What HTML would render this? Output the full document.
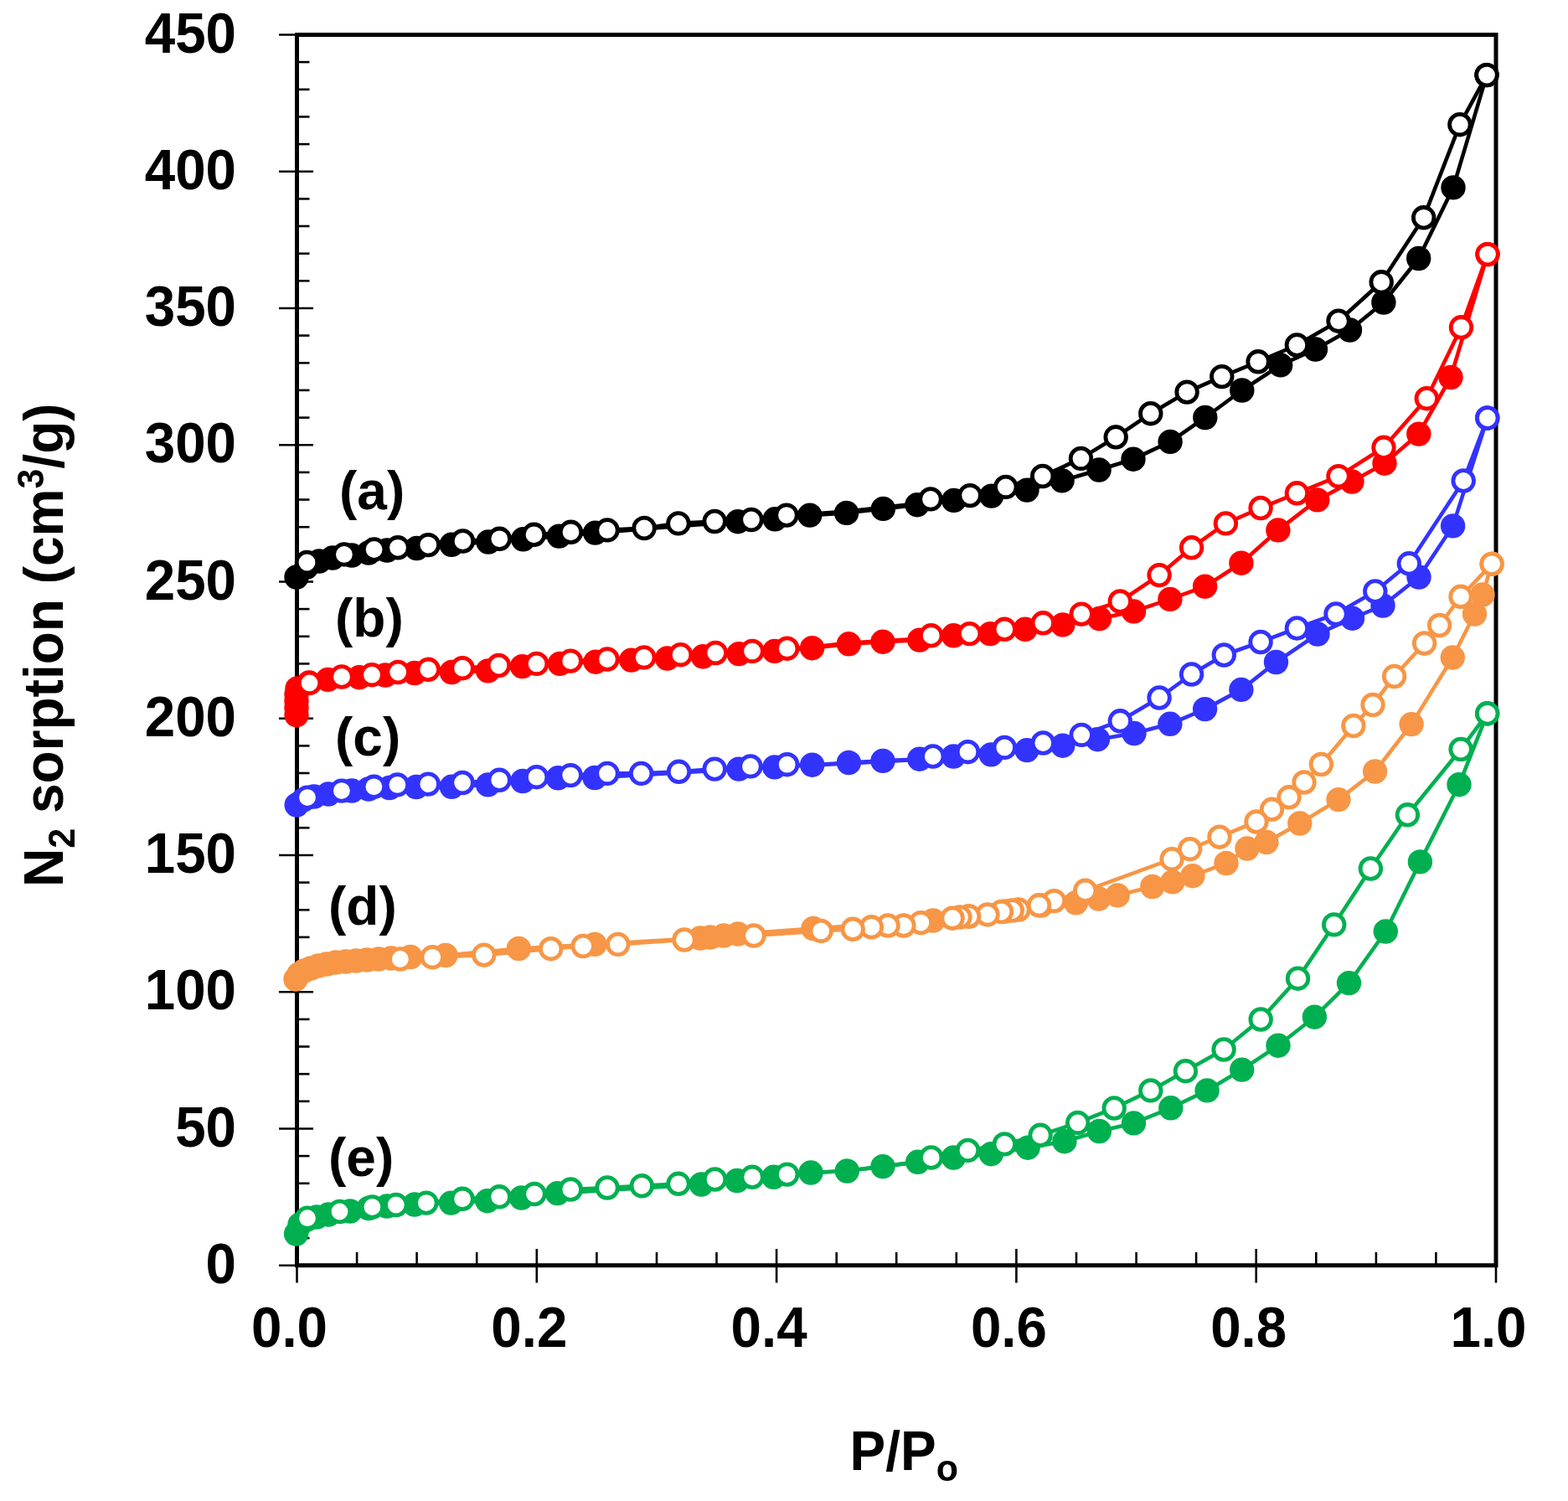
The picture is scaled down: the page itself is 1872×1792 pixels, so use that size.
<!DOCTYPE html>
<html><head><meta charset="utf-8"><title>N2 sorption isotherms</title>
<style>html,body{margin:0;padding:0;background:#fff;}svg{display:block;}text{font-family:'Liberation Sans', Arial, Helvetica, sans-serif;font-weight:bold;}</style></head><body>
<svg width="1872" height="1792" viewBox="0 0 1872 1792">
<rect x="0" y="0" width="1872" height="1792" fill="#fff"/>
<g stroke="#000" fill="none">
<rect x="354.5" y="41.5" width="1431.5" height="1469.2" stroke-width="5.0"/>
<line x1="333" y1="1510.7" x2="374" y2="1510.7" stroke-width="2.6"/>
<line x1="354.5" y1="1478.1" x2="369.5" y2="1478.1" stroke-width="2.6"/>
<line x1="354.5" y1="1445.4" x2="369.5" y2="1445.4" stroke-width="2.6"/>
<line x1="354.5" y1="1412.8" x2="369.5" y2="1412.8" stroke-width="2.6"/>
<line x1="354.5" y1="1380.1" x2="369.5" y2="1380.1" stroke-width="2.6"/>
<line x1="333" y1="1347.5" x2="374" y2="1347.5" stroke-width="2.6"/>
<line x1="354.5" y1="1314.8" x2="369.5" y2="1314.8" stroke-width="2.6"/>
<line x1="354.5" y1="1282.2" x2="369.5" y2="1282.2" stroke-width="2.6"/>
<line x1="354.5" y1="1249.5" x2="369.5" y2="1249.5" stroke-width="2.6"/>
<line x1="354.5" y1="1216.9" x2="369.5" y2="1216.9" stroke-width="2.6"/>
<line x1="333" y1="1184.2" x2="374" y2="1184.2" stroke-width="2.6"/>
<line x1="354.5" y1="1151.6" x2="369.5" y2="1151.6" stroke-width="2.6"/>
<line x1="354.5" y1="1118.9" x2="369.5" y2="1118.9" stroke-width="2.6"/>
<line x1="354.5" y1="1086.3" x2="369.5" y2="1086.3" stroke-width="2.6"/>
<line x1="354.5" y1="1053.6" x2="369.5" y2="1053.6" stroke-width="2.6"/>
<line x1="333" y1="1021.0" x2="374" y2="1021.0" stroke-width="2.6"/>
<line x1="354.5" y1="988.3" x2="369.5" y2="988.3" stroke-width="2.6"/>
<line x1="354.5" y1="955.7" x2="369.5" y2="955.7" stroke-width="2.6"/>
<line x1="354.5" y1="923.0" x2="369.5" y2="923.0" stroke-width="2.6"/>
<line x1="354.5" y1="890.4" x2="369.5" y2="890.4" stroke-width="2.6"/>
<line x1="333" y1="857.7" x2="374" y2="857.7" stroke-width="2.6"/>
<line x1="354.5" y1="825.1" x2="369.5" y2="825.1" stroke-width="2.6"/>
<line x1="354.5" y1="792.4" x2="369.5" y2="792.4" stroke-width="2.6"/>
<line x1="354.5" y1="759.8" x2="369.5" y2="759.8" stroke-width="2.6"/>
<line x1="354.5" y1="727.1" x2="369.5" y2="727.1" stroke-width="2.6"/>
<line x1="333" y1="694.5" x2="374" y2="694.5" stroke-width="2.6"/>
<line x1="354.5" y1="661.8" x2="369.5" y2="661.8" stroke-width="2.6"/>
<line x1="354.5" y1="629.2" x2="369.5" y2="629.2" stroke-width="2.6"/>
<line x1="354.5" y1="596.5" x2="369.5" y2="596.5" stroke-width="2.6"/>
<line x1="354.5" y1="563.9" x2="369.5" y2="563.9" stroke-width="2.6"/>
<line x1="333" y1="531.2" x2="374" y2="531.2" stroke-width="2.6"/>
<line x1="354.5" y1="498.6" x2="369.5" y2="498.6" stroke-width="2.6"/>
<line x1="354.5" y1="465.9" x2="369.5" y2="465.9" stroke-width="2.6"/>
<line x1="354.5" y1="433.3" x2="369.5" y2="433.3" stroke-width="2.6"/>
<line x1="354.5" y1="400.6" x2="369.5" y2="400.6" stroke-width="2.6"/>
<line x1="333" y1="368.0" x2="374" y2="368.0" stroke-width="2.6"/>
<line x1="354.5" y1="335.3" x2="369.5" y2="335.3" stroke-width="2.6"/>
<line x1="354.5" y1="302.7" x2="369.5" y2="302.7" stroke-width="2.6"/>
<line x1="354.5" y1="270.0" x2="369.5" y2="270.0" stroke-width="2.6"/>
<line x1="354.5" y1="237.4" x2="369.5" y2="237.4" stroke-width="2.6"/>
<line x1="333" y1="204.7" x2="374" y2="204.7" stroke-width="2.6"/>
<line x1="354.5" y1="172.1" x2="369.5" y2="172.1" stroke-width="2.6"/>
<line x1="354.5" y1="139.4" x2="369.5" y2="139.4" stroke-width="2.6"/>
<line x1="354.5" y1="106.8" x2="369.5" y2="106.8" stroke-width="2.6"/>
<line x1="354.5" y1="74.1" x2="369.5" y2="74.1" stroke-width="2.6"/>
<line x1="333" y1="41.5" x2="374" y2="41.5" stroke-width="2.6"/>
<line x1="354.5" y1="1491" x2="354.5" y2="1531.5" stroke-width="2.6"/>
<line x1="426.1" y1="1495" x2="426.1" y2="1510.7" stroke-width="2.6"/>
<line x1="497.6" y1="1495" x2="497.6" y2="1510.7" stroke-width="2.6"/>
<line x1="569.2" y1="1495" x2="569.2" y2="1510.7" stroke-width="2.6"/>
<line x1="640.8" y1="1491" x2="640.8" y2="1531.5" stroke-width="2.6"/>
<line x1="712.4" y1="1495" x2="712.4" y2="1510.7" stroke-width="2.6"/>
<line x1="784.0" y1="1495" x2="784.0" y2="1510.7" stroke-width="2.6"/>
<line x1="855.5" y1="1495" x2="855.5" y2="1510.7" stroke-width="2.6"/>
<line x1="927.1" y1="1491" x2="927.1" y2="1531.5" stroke-width="2.6"/>
<line x1="998.7" y1="1495" x2="998.7" y2="1510.7" stroke-width="2.6"/>
<line x1="1070.2" y1="1495" x2="1070.2" y2="1510.7" stroke-width="2.6"/>
<line x1="1141.8" y1="1495" x2="1141.8" y2="1510.7" stroke-width="2.6"/>
<line x1="1213.4" y1="1491" x2="1213.4" y2="1531.5" stroke-width="2.6"/>
<line x1="1285.0" y1="1495" x2="1285.0" y2="1510.7" stroke-width="2.6"/>
<line x1="1356.6" y1="1495" x2="1356.6" y2="1510.7" stroke-width="2.6"/>
<line x1="1428.1" y1="1495" x2="1428.1" y2="1510.7" stroke-width="2.6"/>
<line x1="1499.7" y1="1491" x2="1499.7" y2="1531.5" stroke-width="2.6"/>
<line x1="1571.3" y1="1495" x2="1571.3" y2="1510.7" stroke-width="2.6"/>
<line x1="1642.9" y1="1495" x2="1642.9" y2="1510.7" stroke-width="2.6"/>
<line x1="1714.4" y1="1495" x2="1714.4" y2="1510.7" stroke-width="2.6"/>
<line x1="1786.0" y1="1491" x2="1786.0" y2="1531.5" stroke-width="2.6"/>
</g>
<text transform="translate(282.0,1531.7) scale(1,1.04)" x="0" y="0" font-size="65.5" text-anchor="end" fill="#000">0</text>
<text transform="translate(282.0,1368.5) scale(1,1.04)" x="0" y="0" font-size="65.5" text-anchor="end" fill="#000">50</text>
<text transform="translate(282.0,1205.2) scale(1,1.04)" x="0" y="0" font-size="65.5" text-anchor="end" fill="#000">100</text>
<text transform="translate(282.0,1042.0) scale(1,1.04)" x="0" y="0" font-size="65.5" text-anchor="end" fill="#000">150</text>
<text transform="translate(282.0,878.7) scale(1,1.04)" x="0" y="0" font-size="65.5" text-anchor="end" fill="#000">200</text>
<text transform="translate(282.0,715.5) scale(1,1.04)" x="0" y="0" font-size="65.5" text-anchor="end" fill="#000">250</text>
<text transform="translate(282.0,552.2) scale(1,1.04)" x="0" y="0" font-size="65.5" text-anchor="end" fill="#000">300</text>
<text transform="translate(282.0,389.0) scale(1,1.04)" x="0" y="0" font-size="65.5" text-anchor="end" fill="#000">350</text>
<text transform="translate(282.0,225.7) scale(1,1.04)" x="0" y="0" font-size="65.5" text-anchor="end" fill="#000">400</text>
<text transform="translate(282.0,62.5) scale(1,1.04)" x="0" y="0" font-size="65.5" text-anchor="end" fill="#000">450</text>
<text transform="translate(345.5,1607.5) scale(1,1.04)" x="0" y="0" font-size="65.5" text-anchor="middle" fill="#000">0.0</text>
<text transform="translate(631.8,1607.5) scale(1,1.04)" x="0" y="0" font-size="65.5" text-anchor="middle" fill="#000">0.2</text>
<text transform="translate(918.1,1607.5) scale(1,1.04)" x="0" y="0" font-size="65.5" text-anchor="middle" fill="#000">0.4</text>
<text transform="translate(1204.4,1607.5) scale(1,1.04)" x="0" y="0" font-size="65.5" text-anchor="middle" fill="#000">0.6</text>
<text transform="translate(1490.7,1607.5) scale(1,1.04)" x="0" y="0" font-size="65.5" text-anchor="middle" fill="#000">0.8</text>
<text transform="translate(1777.0,1607.5) scale(1,1.04)" x="0" y="0" font-size="65.5" text-anchor="middle" fill="#000">1.0</text>
<text transform="translate(1014.5,1754.7) scale(1,1.04)" x="0" y="0" font-size="64" fill="#000">P/P<tspan font-size="43" dy="13">o</tspan></text>
<text transform="translate(75.2,1059) rotate(-90) scale(1,1.04)" x="0" y="0" font-size="64" fill="#000">N<tspan font-size="43" dy="13">2</tspan><tspan dy="-13"> sorption (cm</tspan><tspan font-size="43" dy="-22">3</tspan><tspan dy="22">/g)</tspan></text>
<text transform="translate(405.0,607.5) scale(1,1.0)" x="0" y="0" font-size="64" fill="#000">(a)</text>
<text transform="translate(400.0,759.5) scale(1,1.0)" x="0" y="0" font-size="64" fill="#000">(b)</text>
<text transform="translate(400.0,901.5) scale(1,1.0)" x="0" y="0" font-size="64" fill="#000">(c)</text>
<text transform="translate(392.0,1104.0) scale(1,1.0)" x="0" y="0" font-size="64" fill="#000">(d)</text>
<text transform="translate(392.0,1403.5) scale(1,1.0)" x="0" y="0" font-size="64" fill="#000">(e)</text>
<g>
<polyline points="354.0,689.0 366.0,677.0 381.0,670.0 397.0,666.0 420.0,663.0 440.0,660.0 462.0,657.0 497.5,654.5 539.1,650.3 583.0,647.0 624.6,643.8 667.4,640.1 710.6,636.1 880.9,622.7 925.2,619.8 966.8,615.1 1010.6,612.4 1054.4,607.4 1095.0,602.7 1138.8,597.4 1183.7,592.1 1226.0,585.1 1268.1,573.8 1312.1,561.0 1353.0,548.2 1397.1,527.4 1438.8,498.5 1482.8,466.0 1528.7,435.9 1570.5,417.0 1611.5,394.0 1651.9,361.0 1693.7,308.5 1735.0,223.9 1775.0,89.6" fill="none" stroke="#000000" stroke-width="4.6" stroke-linejoin="round"/>
<g fill="#000000" stroke="#000000" stroke-width="4.8">
<circle cx="354.0" cy="689.0" r="12.3"/>
<circle cx="366.0" cy="677.0" r="12.3"/>
<circle cx="381.0" cy="670.0" r="12.3"/>
<circle cx="397.0" cy="666.0" r="12.3"/>
<circle cx="420.0" cy="663.0" r="12.3"/>
<circle cx="440.0" cy="660.0" r="12.3"/>
<circle cx="462.0" cy="657.0" r="12.3"/>
<circle cx="497.5" cy="654.5" r="12.3"/>
<circle cx="539.1" cy="650.3" r="12.3"/>
<circle cx="583.0" cy="647.0" r="12.3"/>
<circle cx="624.6" cy="643.8" r="12.3"/>
<circle cx="667.4" cy="640.1" r="12.3"/>
<circle cx="710.6" cy="636.1" r="12.3"/>
<circle cx="880.9" cy="622.7" r="12.3"/>
<circle cx="925.2" cy="619.8" r="12.3"/>
<circle cx="966.8" cy="615.1" r="12.3"/>
<circle cx="1010.6" cy="612.4" r="12.3"/>
<circle cx="1054.4" cy="607.4" r="12.3"/>
<circle cx="1095.0" cy="602.7" r="12.3"/>
<circle cx="1138.8" cy="597.4" r="12.3"/>
<circle cx="1183.7" cy="592.1" r="12.3"/>
<circle cx="1226.0" cy="585.1" r="12.3"/>
<circle cx="1268.1" cy="573.8" r="12.3"/>
<circle cx="1312.1" cy="561.0" r="12.3"/>
<circle cx="1353.0" cy="548.2" r="12.3"/>
<circle cx="1397.1" cy="527.4" r="12.3"/>
<circle cx="1438.8" cy="498.5" r="12.3"/>
<circle cx="1482.8" cy="466.0" r="12.3"/>
<circle cx="1528.7" cy="435.9" r="12.3"/>
<circle cx="1570.5" cy="417.0" r="12.3"/>
<circle cx="1611.5" cy="394.0" r="12.3"/>
<circle cx="1651.9" cy="361.0" r="12.3"/>
<circle cx="1693.7" cy="308.5" r="12.3"/>
<circle cx="1735.0" cy="223.9" r="12.3"/>
<circle cx="1775.0" cy="89.6" r="12.3"/>
</g>
<polyline points="1775.0,89.6 1742.9,148.7 1699.7,259.8 1649.2,336.8 1598.0,383.2 1548.4,412.0 1502.1,431.8 1458.8,449.6 1417.1,468.1 1373.8,493.7 1332.2,521.8 1290.5,547.4 1244.7,568.5 1200.8,581.4 1158.1,591.6 1111.0,595.9 1095.0,601.3 1054.4,605.9 1010.6,610.6 966.8,613.8 939.0,615.1 897.0,620.5 853.2,622.5 809.9,624.9 769.1,630.5 725.0,632.9 681.5,635.3 637.5,638.3 596.3,643.3 552.5,646.0 511.3,650.6 475.0,653.8 446.6,656.0 410.9,661.9 366.5,671.5" fill="none" stroke="#000000" stroke-width="4.6" stroke-linejoin="round"/>
<g fill="#fff" stroke="#000000" stroke-width="4.8">
<circle cx="1775.0" cy="89.6" r="12.3"/>
<circle cx="1742.9" cy="148.7" r="12.3"/>
<circle cx="1699.7" cy="259.8" r="12.3"/>
<circle cx="1649.2" cy="336.8" r="12.3"/>
<circle cx="1598.0" cy="383.2" r="12.3"/>
<circle cx="1548.4" cy="412.0" r="12.3"/>
<circle cx="1502.1" cy="431.8" r="12.3"/>
<circle cx="1458.8" cy="449.6" r="12.3"/>
<circle cx="1417.1" cy="468.1" r="12.3"/>
<circle cx="1373.8" cy="493.7" r="12.3"/>
<circle cx="1332.2" cy="521.8" r="12.3"/>
<circle cx="1290.5" cy="547.4" r="12.3"/>
<circle cx="1244.7" cy="568.5" r="12.3"/>
<circle cx="1200.8" cy="581.4" r="12.3"/>
<circle cx="1158.1" cy="591.6" r="12.3"/>
<circle cx="1111.0" cy="595.9" r="12.3"/>
<circle cx="939.0" cy="615.1" r="12.3"/>
<circle cx="897.0" cy="620.5" r="12.3"/>
<circle cx="853.2" cy="622.5" r="12.3"/>
<circle cx="809.9" cy="624.9" r="12.3"/>
<circle cx="769.1" cy="630.5" r="12.3"/>
<circle cx="725.0" cy="632.9" r="12.3"/>
<circle cx="681.5" cy="635.3" r="12.3"/>
<circle cx="637.5" cy="638.3" r="12.3"/>
<circle cx="596.3" cy="643.3" r="12.3"/>
<circle cx="552.5" cy="646.0" r="12.3"/>
<circle cx="511.3" cy="650.6" r="12.3"/>
<circle cx="475.0" cy="653.8" r="12.3"/>
<circle cx="446.6" cy="656.0" r="12.3"/>
<circle cx="410.9" cy="661.9" r="12.3"/>
<circle cx="366.5" cy="671.5" r="12.3"/>
</g>
</g>
<g>
<polyline points="354.0,853.5 354.0,845.0 354.0,837.0 354.0,829.0 355.0,822.0 369.0,815.0 391.4,811.4 428.8,808.7 460.0,806.0 495.0,803.5 539.3,802.5 582.6,800.9 623.5,795.6 668.4,792.4 711.1,790.2 753.8,788.1 796.6,786.0 839.3,783.8 882.1,780.6 924.8,777.4 969.6,773.7 1013.4,768.8 1054.0,766.2 1097.8,764.1 1138.4,758.8 1182.2,756.6 1223.9,751.3 1268.8,745.9 1312.6,738.5 1353.5,729.9 1396.9,715.4 1438.6,700.2 1481.9,672.2 1525.9,632.9 1572.8,596.9 1614.0,575.0 1653.0,553.2 1693.8,518.1 1732.0,450.5 1776.0,303.6" fill="none" stroke="#FF0000" stroke-width="4.6" stroke-linejoin="round"/>
<g fill="#FF0000" stroke="#FF0000" stroke-width="4.8">
<circle cx="354.0" cy="853.5" r="12.3"/>
<circle cx="354.0" cy="845.0" r="12.3"/>
<circle cx="354.0" cy="837.0" r="12.3"/>
<circle cx="354.0" cy="829.0" r="12.3"/>
<circle cx="355.0" cy="822.0" r="12.3"/>
<circle cx="369.0" cy="815.0" r="12.3"/>
<circle cx="391.4" cy="811.4" r="12.3"/>
<circle cx="428.8" cy="808.7" r="12.3"/>
<circle cx="460.0" cy="806.0" r="12.3"/>
<circle cx="495.0" cy="803.5" r="12.3"/>
<circle cx="539.3" cy="802.5" r="12.3"/>
<circle cx="582.6" cy="800.9" r="12.3"/>
<circle cx="623.5" cy="795.6" r="12.3"/>
<circle cx="668.4" cy="792.4" r="12.3"/>
<circle cx="711.1" cy="790.2" r="12.3"/>
<circle cx="753.8" cy="788.1" r="12.3"/>
<circle cx="796.6" cy="786.0" r="12.3"/>
<circle cx="839.3" cy="783.8" r="12.3"/>
<circle cx="882.1" cy="780.6" r="12.3"/>
<circle cx="924.8" cy="777.4" r="12.3"/>
<circle cx="969.6" cy="773.7" r="12.3"/>
<circle cx="1013.4" cy="768.8" r="12.3"/>
<circle cx="1054.0" cy="766.2" r="12.3"/>
<circle cx="1097.8" cy="764.1" r="12.3"/>
<circle cx="1138.4" cy="758.8" r="12.3"/>
<circle cx="1182.2" cy="756.6" r="12.3"/>
<circle cx="1223.9" cy="751.3" r="12.3"/>
<circle cx="1268.8" cy="745.9" r="12.3"/>
<circle cx="1312.6" cy="738.5" r="12.3"/>
<circle cx="1353.5" cy="729.9" r="12.3"/>
<circle cx="1396.9" cy="715.4" r="12.3"/>
<circle cx="1438.6" cy="700.2" r="12.3"/>
<circle cx="1481.9" cy="672.2" r="12.3"/>
<circle cx="1525.9" cy="632.9" r="12.3"/>
<circle cx="1572.8" cy="596.9" r="12.3"/>
<circle cx="1614.0" cy="575.0" r="12.3"/>
<circle cx="1653.0" cy="553.2" r="12.3"/>
<circle cx="1693.8" cy="518.1" r="12.3"/>
<circle cx="1732.0" cy="450.5" r="12.3"/>
<circle cx="1776.0" cy="303.6" r="12.3"/>
</g>
<polyline points="1776.0,303.6 1744.5,390.8 1703.3,475.7 1652.0,534.3 1598.0,568.6 1548.4,588.8 1505.1,606.5 1463.4,624.9 1422.6,653.8 1384.1,686.6 1337.3,718.0 1291.2,733.1 1245.3,743.8 1199.3,751.3 1157.6,756.6 1111.7,758.8 1097.8,762.8 1054.0,765.0 1013.4,767.6 969.6,772.6 939.7,774.2 898.1,777.4 854.3,779.5 812.6,781.7 768.8,784.9 725.0,787.0 681.2,789.1 640.6,792.4 595.4,794.5 552.1,797.7 511.3,799.3 475.2,802.5 444.0,805.7 408.0,808.0 369.5,815.4" fill="none" stroke="#FF0000" stroke-width="4.6" stroke-linejoin="round"/>
<g fill="#fff" stroke="#FF0000" stroke-width="4.8">
<circle cx="1776.0" cy="303.6" r="12.3"/>
<circle cx="1744.5" cy="390.8" r="12.3"/>
<circle cx="1703.3" cy="475.7" r="12.3"/>
<circle cx="1652.0" cy="534.3" r="12.3"/>
<circle cx="1598.0" cy="568.6" r="12.3"/>
<circle cx="1548.4" cy="588.8" r="12.3"/>
<circle cx="1505.1" cy="606.5" r="12.3"/>
<circle cx="1463.4" cy="624.9" r="12.3"/>
<circle cx="1422.6" cy="653.8" r="12.3"/>
<circle cx="1384.1" cy="686.6" r="12.3"/>
<circle cx="1337.3" cy="718.0" r="12.3"/>
<circle cx="1291.2" cy="733.1" r="12.3"/>
<circle cx="1245.3" cy="743.8" r="12.3"/>
<circle cx="1199.3" cy="751.3" r="12.3"/>
<circle cx="1157.6" cy="756.6" r="12.3"/>
<circle cx="1111.7" cy="758.8" r="12.3"/>
<circle cx="939.7" cy="774.2" r="12.3"/>
<circle cx="898.1" cy="777.4" r="12.3"/>
<circle cx="854.3" cy="779.5" r="12.3"/>
<circle cx="812.6" cy="781.7" r="12.3"/>
<circle cx="768.8" cy="784.9" r="12.3"/>
<circle cx="725.0" cy="787.0" r="12.3"/>
<circle cx="681.2" cy="789.1" r="12.3"/>
<circle cx="640.6" cy="792.4" r="12.3"/>
<circle cx="595.4" cy="794.5" r="12.3"/>
<circle cx="552.1" cy="797.7" r="12.3"/>
<circle cx="511.3" cy="799.3" r="12.3"/>
<circle cx="475.2" cy="802.5" r="12.3"/>
<circle cx="444.0" cy="805.7" r="12.3"/>
<circle cx="408.0" cy="808.0" r="12.3"/>
<circle cx="369.5" cy="815.4" r="12.3"/>
</g>
</g>
<g>
<polyline points="354.2,961.0 362.0,955.0 375.0,951.0 392.0,948.0 420.0,944.0 440.0,942.0 465.0,940.5 497.0,939.5 539.3,939.3 582.6,936.9 624.0,932.5 666.2,928.8 710.0,928.5 882.0,918.1 924.8,915.9 969.7,913.2 1013.4,910.5 1054.0,908.4 1097.8,906.2 1138.4,903.0 1183.3,900.9 1226.0,895.6 1268.8,890.2 1310.4,882.7 1354.0,875.5 1396.9,864.3 1438.6,846.6 1481.9,823.4 1523.5,790.5 1573.0,757.0 1614.5,738.2 1651.0,723.0 1694.0,689.0 1734.6,627.9 1775.8,499.0" fill="none" stroke="#3333FF" stroke-width="4.6" stroke-linejoin="round"/>
<g fill="#3333FF" stroke="#3333FF" stroke-width="4.8">
<circle cx="354.2" cy="961.0" r="12.3"/>
<circle cx="362.0" cy="955.0" r="12.3"/>
<circle cx="375.0" cy="951.0" r="12.3"/>
<circle cx="392.0" cy="948.0" r="12.3"/>
<circle cx="420.0" cy="944.0" r="12.3"/>
<circle cx="440.0" cy="942.0" r="12.3"/>
<circle cx="465.0" cy="940.5" r="12.3"/>
<circle cx="497.0" cy="939.5" r="12.3"/>
<circle cx="539.3" cy="939.3" r="12.3"/>
<circle cx="582.6" cy="936.9" r="12.3"/>
<circle cx="624.0" cy="932.5" r="12.3"/>
<circle cx="666.2" cy="928.8" r="12.3"/>
<circle cx="710.0" cy="928.5" r="12.3"/>
<circle cx="882.0" cy="918.1" r="12.3"/>
<circle cx="924.8" cy="915.9" r="12.3"/>
<circle cx="969.7" cy="913.2" r="12.3"/>
<circle cx="1013.4" cy="910.5" r="12.3"/>
<circle cx="1054.0" cy="908.4" r="12.3"/>
<circle cx="1097.8" cy="906.2" r="12.3"/>
<circle cx="1138.4" cy="903.0" r="12.3"/>
<circle cx="1183.3" cy="900.9" r="12.3"/>
<circle cx="1226.0" cy="895.6" r="12.3"/>
<circle cx="1268.8" cy="890.2" r="12.3"/>
<circle cx="1310.4" cy="882.7" r="12.3"/>
<circle cx="1354.0" cy="875.5" r="12.3"/>
<circle cx="1396.9" cy="864.3" r="12.3"/>
<circle cx="1438.6" cy="846.6" r="12.3"/>
<circle cx="1481.9" cy="823.4" r="12.3"/>
<circle cx="1523.5" cy="790.5" r="12.3"/>
<circle cx="1573.0" cy="757.0" r="12.3"/>
<circle cx="1614.5" cy="738.2" r="12.3"/>
<circle cx="1651.0" cy="723.0" r="12.3"/>
<circle cx="1694.0" cy="689.0" r="12.3"/>
<circle cx="1734.6" cy="627.9" r="12.3"/>
<circle cx="1775.8" cy="499.0" r="12.3"/>
</g>
<polyline points="1775.8,499.0 1747.2,574.0 1682.3,672.8 1641.8,706.0 1595.0,733.0 1548.4,750.0 1505.1,766.5 1461.3,782.0 1422.6,805.0 1384.1,833.0 1337.3,860.8 1291.2,877.4 1245.3,887.0 1199.3,892.4 1155.5,897.7 1113.8,903.0 1097.8,906.8 1054.0,909.2 1013.4,911.3 969.7,913.8 939.7,912.7 896.0,914.9 853.2,918.1 810.5,921.3 765.6,923.4 725.0,923.4 681.2,925.6 640.6,927.7 596.2,931.3 552.1,934.5 511.3,936.1 474.4,936.9 446.4,939.3 407.9,944.1 367.0,952.1" fill="none" stroke="#3333FF" stroke-width="4.6" stroke-linejoin="round"/>
<g fill="#fff" stroke="#3333FF" stroke-width="4.8">
<circle cx="1775.8" cy="499.0" r="12.3"/>
<circle cx="1747.2" cy="574.0" r="12.3"/>
<circle cx="1682.3" cy="672.8" r="12.3"/>
<circle cx="1641.8" cy="706.0" r="12.3"/>
<circle cx="1595.0" cy="733.0" r="12.3"/>
<circle cx="1548.4" cy="750.0" r="12.3"/>
<circle cx="1505.1" cy="766.5" r="12.3"/>
<circle cx="1461.3" cy="782.0" r="12.3"/>
<circle cx="1422.6" cy="805.0" r="12.3"/>
<circle cx="1384.1" cy="833.0" r="12.3"/>
<circle cx="1337.3" cy="860.8" r="12.3"/>
<circle cx="1291.2" cy="877.4" r="12.3"/>
<circle cx="1245.3" cy="887.0" r="12.3"/>
<circle cx="1199.3" cy="892.4" r="12.3"/>
<circle cx="1155.5" cy="897.7" r="12.3"/>
<circle cx="1113.8" cy="903.0" r="12.3"/>
<circle cx="939.7" cy="912.7" r="12.3"/>
<circle cx="896.0" cy="914.9" r="12.3"/>
<circle cx="853.2" cy="918.1" r="12.3"/>
<circle cx="810.5" cy="921.3" r="12.3"/>
<circle cx="765.6" cy="923.4" r="12.3"/>
<circle cx="725.0" cy="923.4" r="12.3"/>
<circle cx="681.2" cy="925.6" r="12.3"/>
<circle cx="640.6" cy="927.7" r="12.3"/>
<circle cx="596.2" cy="931.3" r="12.3"/>
<circle cx="552.1" cy="934.5" r="12.3"/>
<circle cx="511.3" cy="936.1" r="12.3"/>
<circle cx="474.4" cy="936.9" r="12.3"/>
<circle cx="446.4" cy="939.3" r="12.3"/>
<circle cx="407.9" cy="944.1" r="12.3"/>
<circle cx="367.0" cy="952.1" r="12.3"/>
</g>
</g>
<g>
<polyline points="353.0,1169.0 357.0,1163.0 363.0,1159.0 371.0,1156.0 380.0,1153.0 390.0,1151.0 401.0,1149.0 413.0,1148.0 425.0,1147.0 438.0,1146.0 452.0,1145.0 467.0,1144.0 490.0,1142.5 532.0,1140.5 619.3,1132.5 710.0,1127.4 836.0,1120.0 848.0,1119.0 864.0,1117.0 881.0,1115.0 971.0,1108.5 1114.0,1099.0 1157.0,1094.0 1200.0,1088.0 1243.0,1081.0 1284.5,1077.8 1311.7,1073.0 1334.2,1068.9 1375.8,1058.5 1399.9,1052.9 1423.9,1045.7 1464.0,1030.5 1489.0,1013.0 1512.0,1005.5 1551.8,983.0 1598.0,954.6 1641.6,921.0 1685.1,864.6 1734.3,785.0 1760.5,733.0 1770.0,710.0 1781.1,673.3" fill="none" stroke="#F79646" stroke-width="4.6" stroke-linejoin="round"/>
<g fill="#F79646" stroke="#F79646" stroke-width="4.8">
<circle cx="353.0" cy="1169.0" r="12.3"/>
<circle cx="357.0" cy="1163.0" r="12.3"/>
<circle cx="363.0" cy="1159.0" r="12.3"/>
<circle cx="371.0" cy="1156.0" r="12.3"/>
<circle cx="380.0" cy="1153.0" r="12.3"/>
<circle cx="390.0" cy="1151.0" r="12.3"/>
<circle cx="401.0" cy="1149.0" r="12.3"/>
<circle cx="413.0" cy="1148.0" r="12.3"/>
<circle cx="425.0" cy="1147.0" r="12.3"/>
<circle cx="438.0" cy="1146.0" r="12.3"/>
<circle cx="452.0" cy="1145.0" r="12.3"/>
<circle cx="467.0" cy="1144.0" r="12.3"/>
<circle cx="490.0" cy="1142.5" r="12.3"/>
<circle cx="532.0" cy="1140.5" r="12.3"/>
<circle cx="619.3" cy="1132.5" r="12.3"/>
<circle cx="710.0" cy="1127.4" r="12.3"/>
<circle cx="836.0" cy="1120.0" r="12.3"/>
<circle cx="848.0" cy="1119.0" r="12.3"/>
<circle cx="864.0" cy="1117.0" r="12.3"/>
<circle cx="881.0" cy="1115.0" r="12.3"/>
<circle cx="971.0" cy="1108.5" r="12.3"/>
<circle cx="1114.0" cy="1099.0" r="12.3"/>
<circle cx="1157.0" cy="1094.0" r="12.3"/>
<circle cx="1200.0" cy="1088.0" r="12.3"/>
<circle cx="1243.0" cy="1081.0" r="12.3"/>
<circle cx="1284.5" cy="1077.8" r="12.3"/>
<circle cx="1311.7" cy="1073.0" r="12.3"/>
<circle cx="1334.2" cy="1068.9" r="12.3"/>
<circle cx="1375.8" cy="1058.5" r="12.3"/>
<circle cx="1399.9" cy="1052.9" r="12.3"/>
<circle cx="1423.9" cy="1045.7" r="12.3"/>
<circle cx="1464.0" cy="1030.5" r="12.3"/>
<circle cx="1489.0" cy="1013.0" r="12.3"/>
<circle cx="1512.0" cy="1005.5" r="12.3"/>
<circle cx="1551.8" cy="983.0" r="12.3"/>
<circle cx="1598.0" cy="954.6" r="12.3"/>
<circle cx="1641.6" cy="921.0" r="12.3"/>
<circle cx="1685.1" cy="864.6" r="12.3"/>
<circle cx="1734.3" cy="785.0" r="12.3"/>
<circle cx="1760.5" cy="733.0" r="12.3"/>
<circle cx="1770.0" cy="710.0" r="12.3"/>
<circle cx="1781.1" cy="673.3" r="12.3"/>
</g>
<polyline points="1781.1,673.3 1744.0,712.3 1718.6,746.5 1700.6,768.0 1664.6,807.5 1639.0,841.5 1615.9,866.5 1577.4,912.5 1557.0,934.0 1539.0,951.8 1518.5,966.3 1500.0,981.0 1456.0,999.2 1420.7,1013.7 1399.1,1025.7 1295.7,1063.3 1258.5,1075.6 1240.5,1080.8 1216.0,1086.0 1208.3,1087.0 1195.5,1088.5 1179.0,1091.9 1156.6,1094.0 1146.0,1095.0 1137.1,1096.2 1099.4,1101.6 1078.9,1105.0 1060.1,1105.0 1040.4,1106.8 1018.2,1109.3 980.2,1111.4 900.0,1117.0 817.0,1122.0 737.8,1127.4 696.2,1129.5 657.7,1132.7 577.8,1140.1 516.2,1142.8 477.8,1145.0" fill="none" stroke="#F79646" stroke-width="4.6" stroke-linejoin="round"/>
<g fill="#fff" stroke="#F79646" stroke-width="4.8">
<circle cx="1781.1" cy="673.3" r="12.3"/>
<circle cx="1744.0" cy="712.3" r="12.3"/>
<circle cx="1718.6" cy="746.5" r="12.3"/>
<circle cx="1700.6" cy="768.0" r="12.3"/>
<circle cx="1664.6" cy="807.5" r="12.3"/>
<circle cx="1639.0" cy="841.5" r="12.3"/>
<circle cx="1615.9" cy="866.5" r="12.3"/>
<circle cx="1577.4" cy="912.5" r="12.3"/>
<circle cx="1557.0" cy="934.0" r="12.3"/>
<circle cx="1539.0" cy="951.8" r="12.3"/>
<circle cx="1518.5" cy="966.3" r="12.3"/>
<circle cx="1500.0" cy="981.0" r="12.3"/>
<circle cx="1456.0" cy="999.2" r="12.3"/>
<circle cx="1420.7" cy="1013.7" r="12.3"/>
<circle cx="1399.1" cy="1025.7" r="12.3"/>
<circle cx="1295.7" cy="1063.3" r="12.3"/>
<circle cx="1258.5" cy="1075.6" r="12.3"/>
<circle cx="1240.5" cy="1080.8" r="12.3"/>
<circle cx="1216.0" cy="1086.0" r="12.3"/>
<circle cx="1208.3" cy="1087.0" r="12.3"/>
<circle cx="1195.5" cy="1088.5" r="12.3"/>
<circle cx="1179.0" cy="1091.9" r="12.3"/>
<circle cx="1156.6" cy="1094.0" r="12.3"/>
<circle cx="1146.0" cy="1095.0" r="12.3"/>
<circle cx="1137.1" cy="1096.2" r="12.3"/>
<circle cx="1099.4" cy="1101.6" r="12.3"/>
<circle cx="1078.9" cy="1105.0" r="12.3"/>
<circle cx="1060.1" cy="1105.0" r="12.3"/>
<circle cx="1040.4" cy="1106.8" r="12.3"/>
<circle cx="1018.2" cy="1109.3" r="12.3"/>
<circle cx="980.2" cy="1111.4" r="12.3"/>
<circle cx="900.0" cy="1117.0" r="12.3"/>
<circle cx="817.0" cy="1122.0" r="12.3"/>
<circle cx="737.8" cy="1127.4" r="12.3"/>
<circle cx="696.2" cy="1129.5" r="12.3"/>
<circle cx="657.7" cy="1132.7" r="12.3"/>
<circle cx="577.8" cy="1140.1" r="12.3"/>
<circle cx="516.2" cy="1142.8" r="12.3"/>
<circle cx="477.8" cy="1145.0" r="12.3"/>
</g>
</g>
<g>
<polyline points="353.6,1473.0 358.0,1462.0 366.0,1456.0 378.0,1453.0 392.0,1450.0 418.0,1446.0 440.0,1442.5 462.0,1440.0 495.0,1438.0 538.5,1436.1 581.8,1433.7 622.5,1430.0 665.5,1424.6 837.3,1414.0 879.9,1409.5 923.7,1405.3 968.0,1400.0 1011.3,1398.0 1054.0,1392.6 1095.7,1387.3 1138.4,1382.0 1183.3,1377.7 1227.1,1370.2 1270.9,1362.7 1312.4,1350.5 1353.5,1340.9 1397.8,1322.8 1441.1,1301.9 1482.7,1277.1 1526.0,1248.2 1569.4,1214.2 1610.5,1173.6 1654.3,1112.0 1695.4,1028.9 1742.0,936.7 1775.7,851.8" fill="none" stroke="#00B050" stroke-width="4.6" stroke-linejoin="round"/>
<g fill="#00B050" stroke="#00B050" stroke-width="4.8">
<circle cx="353.6" cy="1473.0" r="12.3"/>
<circle cx="358.0" cy="1462.0" r="12.3"/>
<circle cx="366.0" cy="1456.0" r="12.3"/>
<circle cx="378.0" cy="1453.0" r="12.3"/>
<circle cx="392.0" cy="1450.0" r="12.3"/>
<circle cx="418.0" cy="1446.0" r="12.3"/>
<circle cx="440.0" cy="1442.5" r="12.3"/>
<circle cx="462.0" cy="1440.0" r="12.3"/>
<circle cx="495.0" cy="1438.0" r="12.3"/>
<circle cx="538.5" cy="1436.1" r="12.3"/>
<circle cx="581.8" cy="1433.7" r="12.3"/>
<circle cx="622.5" cy="1430.0" r="12.3"/>
<circle cx="665.5" cy="1424.6" r="12.3"/>
<circle cx="837.3" cy="1414.0" r="12.3"/>
<circle cx="879.9" cy="1409.5" r="12.3"/>
<circle cx="923.7" cy="1405.3" r="12.3"/>
<circle cx="968.0" cy="1400.0" r="12.3"/>
<circle cx="1011.3" cy="1398.0" r="12.3"/>
<circle cx="1054.0" cy="1392.6" r="12.3"/>
<circle cx="1095.7" cy="1387.3" r="12.3"/>
<circle cx="1138.4" cy="1382.0" r="12.3"/>
<circle cx="1183.3" cy="1377.7" r="12.3"/>
<circle cx="1227.1" cy="1370.2" r="12.3"/>
<circle cx="1270.9" cy="1362.7" r="12.3"/>
<circle cx="1312.4" cy="1350.5" r="12.3"/>
<circle cx="1353.5" cy="1340.9" r="12.3"/>
<circle cx="1397.8" cy="1322.8" r="12.3"/>
<circle cx="1441.1" cy="1301.9" r="12.3"/>
<circle cx="1482.7" cy="1277.1" r="12.3"/>
<circle cx="1526.0" cy="1248.2" r="12.3"/>
<circle cx="1569.4" cy="1214.2" r="12.3"/>
<circle cx="1610.5" cy="1173.6" r="12.3"/>
<circle cx="1654.3" cy="1112.0" r="12.3"/>
<circle cx="1695.4" cy="1028.9" r="12.3"/>
<circle cx="1742.0" cy="936.7" r="12.3"/>
<circle cx="1775.7" cy="851.8" r="12.3"/>
</g>
<polyline points="1775.7,851.8 1744.1,894.5 1680.4,972.8 1636.4,1037.0 1592.7,1103.9 1549.5,1168.2 1505.2,1217.0 1461.1,1253.0 1415.4,1278.7 1373.8,1301.9 1330.2,1323.0 1286.7,1340.4 1242.1,1355.3 1199.3,1365.9 1155.5,1373.4 1111.7,1382.0 1095.7,1387.1 1054.0,1392.6 1011.3,1397.8 968.0,1400.2 939.7,1402.1 898.1,1405.3 853.5,1408.0 810.0,1413.3 766.3,1415.8 725.0,1418.0 681.3,1420.0 638.0,1425.5 596.2,1428.8 552.1,1431.3 508.9,1436.1 472.8,1438.5 444.4,1441.0 405.5,1446.5 367.0,1454.2" fill="none" stroke="#00B050" stroke-width="4.6" stroke-linejoin="round"/>
<g fill="#fff" stroke="#00B050" stroke-width="4.8">
<circle cx="1775.7" cy="851.8" r="12.3"/>
<circle cx="1744.1" cy="894.5" r="12.3"/>
<circle cx="1680.4" cy="972.8" r="12.3"/>
<circle cx="1636.4" cy="1037.0" r="12.3"/>
<circle cx="1592.7" cy="1103.9" r="12.3"/>
<circle cx="1549.5" cy="1168.2" r="12.3"/>
<circle cx="1505.2" cy="1217.0" r="12.3"/>
<circle cx="1461.1" cy="1253.0" r="12.3"/>
<circle cx="1415.4" cy="1278.7" r="12.3"/>
<circle cx="1373.8" cy="1301.9" r="12.3"/>
<circle cx="1330.2" cy="1323.0" r="12.3"/>
<circle cx="1286.7" cy="1340.4" r="12.3"/>
<circle cx="1242.1" cy="1355.3" r="12.3"/>
<circle cx="1199.3" cy="1365.9" r="12.3"/>
<circle cx="1155.5" cy="1373.4" r="12.3"/>
<circle cx="1111.7" cy="1382.0" r="12.3"/>
<circle cx="939.7" cy="1402.1" r="12.3"/>
<circle cx="898.1" cy="1405.3" r="12.3"/>
<circle cx="853.5" cy="1408.0" r="12.3"/>
<circle cx="810.0" cy="1413.3" r="12.3"/>
<circle cx="766.3" cy="1415.8" r="12.3"/>
<circle cx="725.0" cy="1418.0" r="12.3"/>
<circle cx="681.3" cy="1420.0" r="12.3"/>
<circle cx="638.0" cy="1425.5" r="12.3"/>
<circle cx="596.2" cy="1428.8" r="12.3"/>
<circle cx="552.1" cy="1431.3" r="12.3"/>
<circle cx="508.9" cy="1436.1" r="12.3"/>
<circle cx="472.8" cy="1438.5" r="12.3"/>
<circle cx="444.4" cy="1441.0" r="12.3"/>
<circle cx="405.5" cy="1446.5" r="12.3"/>
<circle cx="367.0" cy="1454.2" r="12.3"/>
</g>
</g>
</svg></body></html>
